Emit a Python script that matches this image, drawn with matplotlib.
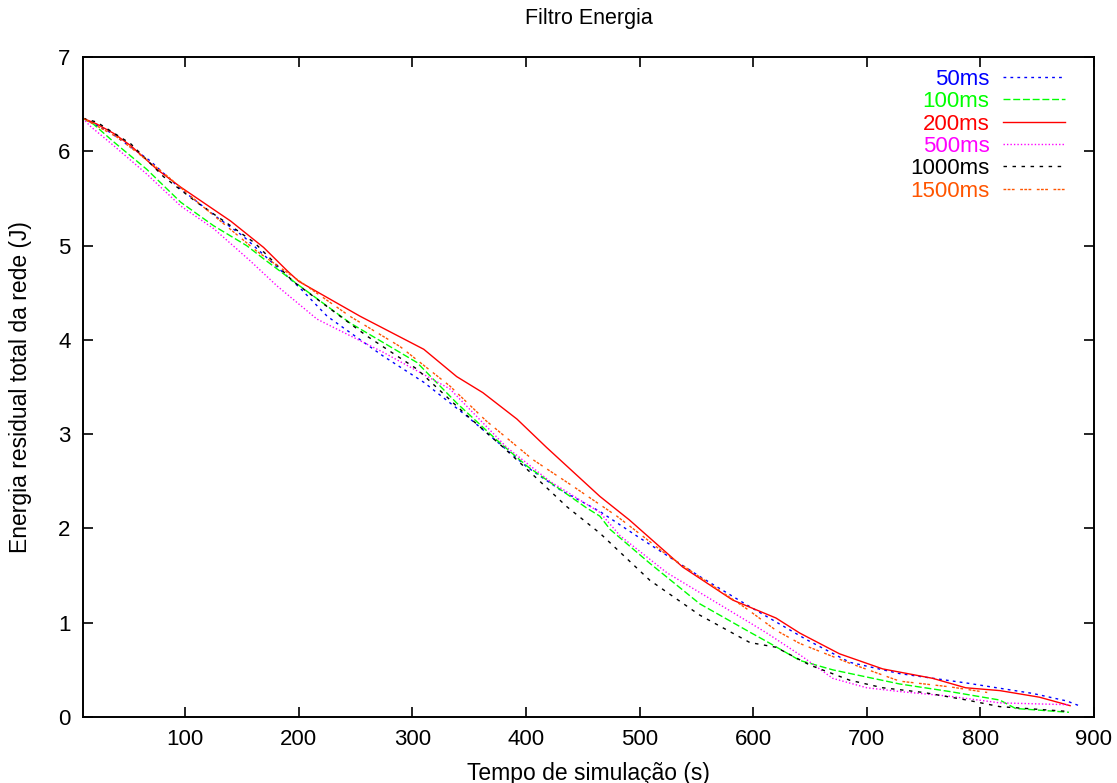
import matplotlib
matplotlib.use('Agg')
import matplotlib.pyplot as plt

plt.rcParams['font.family'] = ['Liberation Sans', 'DejaVu Sans']

# values
x_50 = [10, 34, 69, 96, 128, 151, 192, 201, 225, 274, 310, 348, 401, 430, 465, 500, 553, 597, 647, 685, 729, 788, 846, 876, 889]
y_50 = [6.35, 6.2, 5.9, 5.6, 5.3, 5.1, 4.65, 4.55, 4.25, 3.83, 3.55, 3.19, 2.65, 2.41, 2.18, 1.90, 1.49, 1.17, 0.82, 0.58, 0.46, 0.36, 0.25, 0.17, 0.11]

x_100 = [10, 19, 37, 66, 96, 125, 154, 169, 201, 245, 304, 339, 374, 401, 453, 465, 474, 509, 553, 597, 612, 641, 670, 729, 773, 817, 831, 878]
y_100 = [6.35, 6.29, 6.1, 5.81, 5.46, 5.21, 5.0, 4.86, 4.57, 4.18, 3.76, 3.33, 2.94, 2.66, 2.22, 2.13, 1.99, 1.63, 1.2, 0.90, 0.80, 0.60, 0.50, 0.35, 0.27, 0.18, 0.09, 0.05]

x_200 = [10, 22, 37, 52, 75, 96, 140, 169, 190, 200, 254, 310, 339, 362, 392, 418, 465, 491, 538, 582, 620, 641, 676, 714, 758, 787, 817, 852, 879]
y_200 = [6.35, 6.29, 6.19, 6.06, 5.81, 5.62, 5.26, 4.98, 4.73, 4.62, 4.25, 3.9, 3.61, 3.44, 3.16, 2.86, 2.34, 2.09, 1.59, 1.24, 1.05, 0.89, 0.67, 0.51, 0.41, 0.31, 0.28, 0.21, 0.12]

x_500 = [10, 16, 37, 66, 96, 125, 142, 157, 181, 216, 274, 333, 383, 421, 465, 483, 524, 597, 612, 641, 670, 700, 729, 773, 817, 878]
y_500 = [6.35, 6.27, 6.06, 5.76, 5.42, 5.18, 5.0, 4.84, 4.57, 4.22, 3.87, 3.48, 2.86, 2.5, 2.17, 1.92, 1.53, 1.0, 0.89, 0.66, 0.41, 0.31, 0.27, 0.22, 0.15, 0.13]

x_1000 = [10, 22, 52, 81, 110, 140, 161, 195, 260, 304, 345, 380, 406, 436, 465, 509, 553, 597, 620, 650, 685, 714, 750, 788, 817, 876]
y_1000 = [6.35, 6.31, 6.08, 5.73, 5.46, 5.21, 5.03, 4.62, 4.04, 3.69, 3.23, 2.86, 2.57, 2.23, 1.95, 1.45, 1.08, 0.79, 0.74, 0.55, 0.39, 0.31, 0.26, 0.18, 0.11, 0.06]

x_1500 = [10, 40, 80, 110, 134, 163, 201, 245, 289, 333, 365, 406, 441, 480, 524, 540, 594, 620, 641, 685, 729, 773, 806]
y_1500 = [6.35, 6.15, 5.78, 5.47, 5.23, 4.94, 4.62, 4.25, 3.93, 3.51, 3.14, 2.73, 2.45, 2.13, 1.72, 1.59, 1.15, 0.92, 0.78, 0.57, 0.38, 0.32, 0.26]

labels = ['50ms', '100ms', '200ms', '500ms', '1000ms', '1500ms']
colors = ['#0000ff', '#00ff00', '#ff0000', '#ff00ff', '#000000', '#ff5500']
styles = [(0, (2, 3)), (0, (5, 2)), '-', (0, (1, 1.5)), (0, (2.5, 4)), (0, (2, 1, 2, 1, 2, 4))]
series = [(x_50, y_50), (x_100, y_100), (x_200, y_200), (x_500, y_500), (x_1000, y_1000), (x_1500, y_1500)]

fig = plt.figure(figsize=(11.17, 7.83), dpi=100)
ax = fig.add_axes([0.0743, 0.0843, 0.9051, 0.8429])

for (xs, ys), lab, c, ls in zip(series, labels, colors, styles):
    ax.plot(xs, ys, color=c, linestyle=ls, linewidth=1.0, label=lab)

ax.set_xlim(10, 900)
ax.set_ylim(0, 7)
ax.set_xticks(range(100, 901, 100))
ax.set_yticks(range(0, 8))
ax.tick_params(direction='in', length=7, width=1.2, labelsize=16, top=True, right=True, pad=9)
for sp in ax.spines.values():
    sp.set_linewidth(1.4)

ax.set_title('Filtro Energia', fontsize=15.5, pad=24)
ax.set_xlabel('Tempo de simulação (s)', fontsize=16.5, labelpad=8)
ax.set_ylabel('Energia residual total da rede (J)', fontsize=16.5, labelpad=19)

leg = ax.legend(loc='upper right', bbox_to_anchor=(0.9713, 0.982), frameon=False,
                markerfirst=False, labelcolor='linecolor', fontsize=16,
                handlelength=2.8, handletextpad=0.6, labelspacing=0.06,
                borderaxespad=0, borderpad=0)
for t in leg.get_texts():
    t.set_ha('right')

fig.savefig('out.png', dpi=100)
